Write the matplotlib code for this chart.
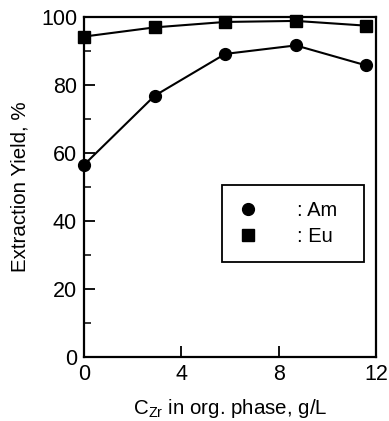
import matplotlib
matplotlib.use("Agg")
import matplotlib.pyplot as plt
from matplotlib.ticker import MultipleLocator

plt.rcParams['font.family'] = ['Liberation Sans', 'DejaVu Sans']

x_vals = [0.0, 2.9, 5.8, 8.7, 11.6]
am_vals = [56.5, 76.8, 89.1, 91.6, 85.7]
eu_vals = [94.2, 96.9, 98.5, 98.8, 97.4]

fig = plt.figure(figsize=(3.89, 4.21), dpi=100)
ax = fig.add_axes([0.216, 0.152, 0.751, 0.808])

ax.plot(x_vals, am_vals, '-', color='black', lw=1.5, marker='o', ms=8.5, label=': Am  ', clip_on=False, zorder=3)
ax.plot(x_vals, eu_vals, '-', color='black', lw=1.5, marker='s', ms=8, label=': Eu', clip_on=False, zorder=3)

ax.set_xlim(0, 12)
ax.set_ylim(0, 100)
ax.xaxis.set_major_locator(MultipleLocator(4))
ax.yaxis.set_major_locator(MultipleLocator(20))
ax.yaxis.set_minor_locator(MultipleLocator(10))
ax.tick_params(axis='both', which='major', direction='in', length=8, width=1.3, labelsize=15.5, pad=5)
ax.tick_params(axis='y', which='minor', direction='in', length=5, width=1.1)
for s in ax.spines.values():
    s.set_linewidth(1.6)

ax.set_xlabel(r'C$_{\mathregular{Zr}}$ in org. phase, g/L', fontsize=14.8, labelpad=9)
ax.set_ylabel('Extraction Yield, %', fontsize=14.8, labelpad=8)

leg = ax.legend(loc='upper left', bbox_to_anchor=(0.473, 0.506), handlelength=1.0,
                handletextpad=1.9, fontsize=14.5, fancybox=False, framealpha=1,
                edgecolor='black', borderpad=0.8, labelspacing=0.35, borderaxespad=0)
leg.get_frame().set_linewidth(1.3)
for h in leg.legend_handles:
    h.set_linestyle('None')

fig.savefig('out.png', dpi=100)
